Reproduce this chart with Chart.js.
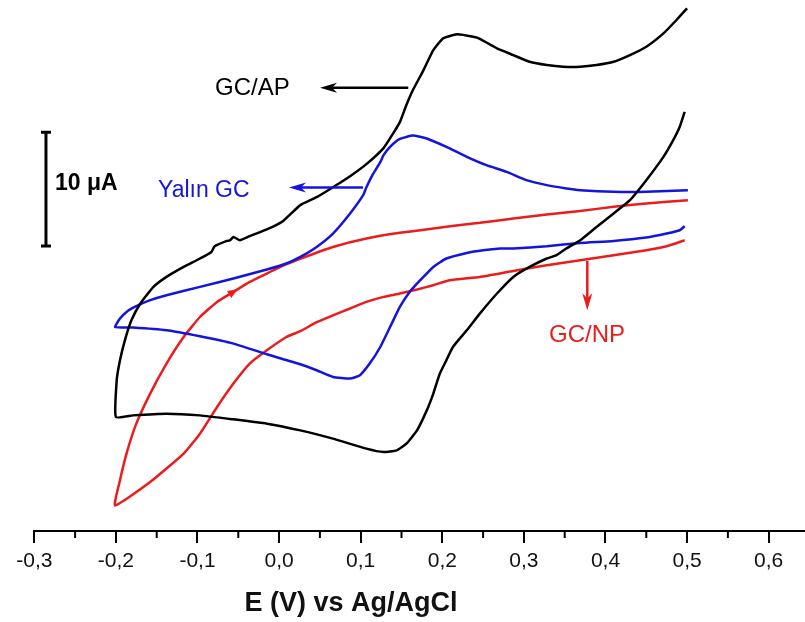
<!DOCTYPE html>
<html>
<head>
<meta charset="utf-8">
<script src="https://cdn.jsdelivr.net/npm/chart.js@4.4.0/dist/chart.umd.min.js"></script>
<style>
  body { margin: 0; background: #fff; }
</style>
</head>
<body>
<canvas id="myChart" width="805" height="622"></canvas>
<script>
// potentials (V vs Ag/AgCl) and currents (uA, arbitrary zero)

// GC/AP (black)
const apE = [0.500, 0.487, 0.471, 0.450, 0.430, 0.410, 0.389, 0.369, 0.348, 0.328, 0.307, 0.287, 0.267, 0.246, 0.238, 0.218,
  0.201, 0.189, 0.177, 0.164, 0.156, 0.148, 0.140, 0.128, 0.107, 0.087, 0.066, 0.046, 0.026, 0.005, -0.015, -0.036,
  -0.048, -0.056, -0.060, -0.064, -0.079, -0.083, -0.097, -0.117, -0.138, -0.154, -0.170, -0.181, -0.189, -0.195, -0.199, -0.200,
  -0.179, -0.138, -0.097, -0.056, -0.015, 0.026, 0.066, 0.107, 0.128, 0.144, 0.156, 0.169, 0.181, 0.189, 0.197, 0.205,
  0.213, 0.230, 0.246, 0.267, 0.287, 0.307, 0.328, 0.340, 0.352, 0.369, 0.389, 0.410, 0.430, 0.450, 0.471, 0.483, 0.491, 0.497];
const apI = [22.62, 21.59, 20.41, 19.23, 18.50, 17.91, 17.62, 17.47, 17.47, 17.62, 17.91, 18.50, 19.09, 19.93, 20.11, 20.33,
  19.97, 18.94, 17.18, 15.42, 14.10, 12.60, 11.63, 10.31, 8.90, 7.84, 6.87, 5.99, 5.29, 3.90, 3.15, 2.56,
  2.20, 2.49, 2.20, 2.14, 1.67, 1.17, 0.59, -0.15, -1.03, -1.91, -3.37, -4.85, -6.61, -8.37, -10.13, -13.37,
  -13.22, -13.07, -13.22, -13.57, -13.95, -14.54, -15.27, -16.15, -16.45, -16.30, -15.71, -14.54, -12.78, -11.30, -9.54, -8.37,
  -7.20, -5.73, -4.26, -2.49, -1.03, -0.15, 0.59, 0.88, 1.47, 2.20, 3.37, 4.56, 5.73, 7.49, 9.54, 11.01, 12.19, 13.51];

// Yalın GC (blue)
const gcE = [0.501, 0.450, 0.410, 0.369, 0.352, 0.328, 0.303, 0.279, 0.254, 0.230, 0.205, 0.181, 0.164, 0.148, 0.136, 0.128,
  0.124, 0.115, 0.107, 0.103, 0.087, 0.066, 0.046, 0.026, 0.009, -0.015, -0.056, -0.097, -0.138, -0.158, -0.175, -0.187, -0.195, -0.201,
  -0.179, -0.138, -0.097, -0.056, -0.015, 0.026, 0.046, 0.066, 0.087, 0.099, 0.111, 0.124, 0.136, 0.148, 0.160, 0.173,
  0.189, 0.205, 0.230, 0.250, 0.271, 0.287, 0.328, 0.369, 0.410, 0.450, 0.475, 0.491, 0.497];
const gcI = [6.61, 6.46, 6.46, 6.61, 6.76, 7.05, 7.49, 8.22, 8.81, 9.54, 10.42, 11.16, 11.41, 11.12, 10.42, 9.69,
  9.07, 8.02, 6.87, 6.17, 4.56, 2.79, 1.61, 0.73, 0.15, -0.38, -1.17, -1.91, -2.64, -3.08, -3.61, -4.11, -4.70, -5.44,
  -5.49, -5.73, -6.26, -6.90, -7.84, -8.72, -9.25, -9.84, -9.98, -9.69, -8.66, -7.20, -5.44, -3.67, -2.35, -1.32,
  -0.15, 0.59, 1.08, 1.32, 1.47, 1.47, 1.67, 1.96, 2.14, 2.44, 2.79, 3.08, 3.44];

// GC/NP (red)
const npE = [0.501, 0.450, 0.410, 0.369, 0.328, 0.287, 0.246, 0.230, 0.189, 0.148, 0.107, 0.066, 0.034, 0.009, -0.015, -0.036,
  -0.056, -0.076, -0.097, -0.117, -0.138, -0.158, -0.175, -0.187, -0.195, -0.201,
  -0.158, -0.117, -0.097, -0.076, -0.056, -0.036, -0.015, 0.009, 0.026, 0.046, 0.066, 0.087, 0.107, 0.128, 0.148, 0.169,
  0.189, 0.209, 0.246, 0.287, 0.328, 0.369, 0.410, 0.450, 0.475, 0.497];
const npI = [5.73, 5.44, 5.14, 4.78, 4.47, 4.11, 3.73, 3.61, 3.23, 2.85, 2.35, 1.61, 0.79, 0.09, -0.73, -1.47,
  -2.35, -3.23, -4.56, -6.32, -8.66, -11.30, -13.95, -16.59, -18.94, -21.15,
  -19.09, -16.59, -14.83, -12.48, -10.42, -8.66, -7.49, -6.32, -5.81, -5.02, -4.41, -3.81, -3.23, -2.79, -2.49, -2.14,
  -1.76, -1.32, -1.03, -0.50, 0, 0.44, 0.88, 1.32, 1.67, 2.20];

// 10 uA scale bar
const barE = [-0.2857, -0.2857];
const barI = [11.7, 1.7];

const majorTicks = [-0.3, -0.2, -0.1, 0.0, 0.1, 0.2, 0.3, 0.4, 0.5, 0.6];
const minorTicks = [-0.25, -0.15, -0.05, 0.05, 0.15, 0.25, 0.35, 0.45, 0.55];

const BLACK = '#000000';
const BLUE = '#1414dc';
const RED = '#ea1c1c';
const FONT = 'Arial, "Liberation Sans", sans-serif';

const toXY = (xs, ys) => xs.map((v, i) => ({ x: v, y: ys[i] }));

function arrow(ctx, x0, y0, x1, y1, color) {
  const a = Math.atan2(y1 - y0, x1 - x0);
  ctx.strokeStyle = color;
  ctx.fillStyle = color;
  ctx.lineWidth = 2.5;
  ctx.beginPath();
  ctx.moveTo(x0, y0);
  ctx.lineTo(x1 - 10 * Math.cos(a), y1 - 10 * Math.sin(a));
  ctx.stroke();
  ctx.save();
  ctx.translate(x1, y1);
  ctx.rotate(a);
  ctx.beginPath();
  ctx.moveTo(0, 0);
  ctx.lineTo(-17, -5);
  ctx.lineTo(-12, 0);
  ctx.lineTo(-17, 5);
  ctx.closePath();
  ctx.fill();
  ctx.restore();
}

const notes = {
  id: 'notes',
  afterDraw(chart) {
    const { ctx, chartArea, scales: { x, y } } = chart;
    ctx.save();

    // minor ticks
    ctx.strokeStyle = '#000';
    ctx.lineWidth = 2;
    minorTicks.forEach(v => {
      const px = x.getPixelForValue(v);
      ctx.beginPath();
      ctx.moveTo(px, chartArea.bottom);
      ctx.lineTo(px, chartArea.bottom + 7);
      ctx.stroke();
    });

    // arrows
    arrow(ctx, x.getPixelForValue(0.1583), y.getPixelForValue(15.62), x.getPixelForValue(0.0502), y.getPixelForValue(15.62), BLACK);
    arrow(ctx, x.getPixelForValue(0.1028), y.getPixelForValue(6.85), x.getPixelForValue(0.0121), y.getPixelForValue(6.85), BLUE);
    arrow(ctx, x.getPixelForValue(0.3777), y.getPixelForValue(0.38), x.getPixelForValue(0.3777), y.getPixelForValue(-3.96), RED);

    // little direction mark on the red curve
    ctx.save();
    ctx.translate(x.getPixelForValue(-0.056), y.getPixelForValue(-2.35));
    ctx.rotate(-0.55);
    ctx.fillStyle = RED;
    ctx.beginPath();
    ctx.moveTo(5, 0);
    ctx.lineTo(-5, -4);
    ctx.lineTo(-5, 4);
    ctx.closePath();
    ctx.fill();
    ctx.restore();

    // labels
    ctx.textAlign = 'left';
    ctx.textBaseline = 'alphabetic';
    ctx.font = '24px ' + FONT;
    ctx.fillStyle = BLACK;
    ctx.fillText('GC/AP', 215, 95);
    ctx.font = '23px ' + FONT;
    ctx.fillStyle = BLUE;
    ctx.fillText('Yalın GC', 158, 197);
    ctx.font = '24px ' + FONT;
    ctx.fillStyle = RED;
    ctx.fillText('GC/NP', 549, 342);
    ctx.font = 'bold 23px ' + FONT;
    ctx.fillStyle = BLACK;
    ctx.fillText('10 μA', 55, 190);

    // axis title
    ctx.textAlign = 'center';
    ctx.font = 'bold 27px ' + FONT;
    ctx.fillStyle = '#111';
    ctx.fillText('E (V) vs Ag/AgCl', 351, 611);
    ctx.restore();
  }
};

const line = (data, color) => ({
  data: data,
  showLine: true,
  borderColor: color,
  borderWidth: 2.5,
  pointRadius: 0,
  tension: 0.15,
  fill: false,
});

new Chart(document.getElementById('myChart'), {
  type: 'scatter',
  data: {
    datasets: [
      line(toXY(apE, apI), BLACK),
      line(toXY(gcE, gcI), BLUE),
      line(toXY(npE, npI), RED),
      {
        data: toXY(barE, barI),
        showLine: true,
        borderColor: BLACK,
        borderWidth: 3,
        pointStyle: 'line',
        pointRadius: 5,
        pointBorderWidth: 3,
        pointBorderColor: BLACK,
      },
    ],
  },
  options: {
    responsive: false,
    animation: false,
    layout: { autoPadding: false, padding: { left: 34.3, right: 0, top: 0, bottom: 0 } },
    plugins: { legend: { display: false }, tooltip: { enabled: false } },
    scales: {
      x: {
        type: 'linear',
        min: -0.3,
        max: 0.6445,
        afterBuildTicks: (s) => { s.ticks = majorTicks.map(v => ({ value: v })); },
        afterFit: (s) => { s.height = 91; s.paddingLeft = 0; s.paddingRight = 0; },
        border: { display: true, color: '#000', width: 2 },
        grid: { display: true, drawOnChartArea: false, drawTicks: true, tickLength: 12, color: '#000', lineWidth: 2 },
        ticks: {
          autoSkip: false,
          padding: 6,
          color: '#111',
          font: { family: FONT, size: 21 },
          maxRotation: 0,
          callback: (v) => (Math.abs(v) < 1e-9 ? 0 : v).toFixed(1).replace('.', ','),
        },
      },
      y: {
        type: 'linear',
        display: false,
        min: -23.4,
        max: 23.35,
      },
    },
  },
  plugins: [notes],
});
</script>
</body>
</html>
